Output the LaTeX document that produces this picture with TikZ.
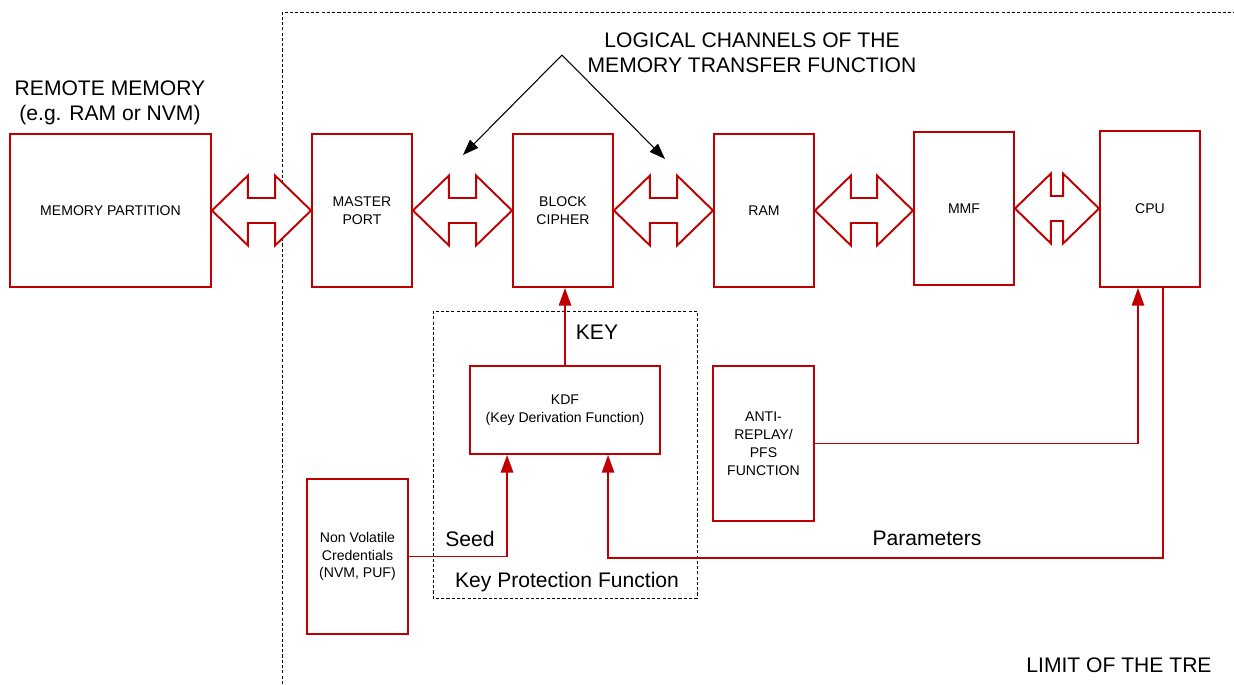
\documentclass[tikz,border=0pt]{standalone}
\usepackage{fontspec}
\setmainfont{Liberation Sans}
\usepackage{xcolor}
\usetikzlibrary{arrows.meta,calc}
\definecolor{tred}{RGB}{192,0,0}

% double arrow between two blocks
\newcommand\chan[2]{%
  \draw[chanarrow] let \p1=(#1.east), \p2=(#2.west) in
    (\x1,\y1) -- (\x1+0.72cm,\y1+0.7cm) -- (\x1+0.72cm,\y1+0.25cm)
    -- (\x2-0.72cm,\y1+0.25cm) -- (\x2-0.72cm,\y1+0.7cm) -- (\x2,\y1)
    -- (\x2-0.72cm,\y1-0.7cm) -- (\x2-0.72cm,\y1-0.25cm)
    -- (\x1+0.72cm,\y1-0.25cm) -- (\x1+0.72cm,\y1-0.7cm) -- cycle;}

\tikzset{
  blk/.style={draw=tred, line width=1.1pt, minimum width=2cm, minimum height=3.06cm,
    align=center, font=\fontsize{8}{10}\selectfont, inner sep=1pt},
  chanarrow/.style={draw=tred, line width=1.1pt, line join=miter, fill=white},
  link/.style={draw=tred, line width=0.9pt, -{Triangle[length=10pt,width=7pt]}},
  pointer/.style={black, line width=0.6pt, -{Triangle[length=9pt,width=6.5pt]}},
  limit/.style={black, line width=0.5pt, dash pattern=on 1.8pt off 1.2pt},
  big/.style={font=\fontsize{12}{14.5}\selectfont, align=center, inner sep=0pt},
}

\begin{document}
\begin{tikzpicture}[x=0.02cm, y=-0.02cm]
    \useasboundingbox (0,0) rectangle (1234,684);
    % limit of the TRE and key protection area
    \draw[limit] (282,684) -- (282,12) -- (1234,12);
    \draw[limit] (433,311) rectangle (697,598);
    % transfer chain
    \node[blk, minimum width=4.02cm] (mem) at (110.5,210.5) {MEMORY PARTITION};
    \node[blk] (master) at (362,210.5) {MASTER\\PORT};
    \node[blk] (cipher) at (563,210.5) {BLOCK\\CIPHER};
    \node[blk] (ram) at (764,210.5) {RAM};
    \node[blk] (mmf) at (964,208.5) {MMF};
    \node[blk, minimum height=3.12cm] (cpu) at (1150,209) {CPU};
    \chan{mem}{master}
    \chan{master}{cipher}
    \chan{cipher}{ram}
    \chan{ram}{mmf}
    \chan{mmf}{cpu}
    % key side
    \node[blk, minimum width=3.8cm, minimum height=1.76cm] (kdf) at (565,410) {KDF\\(Key Derivation Function)};
    \node[blk, minimum width=2.02cm, minimum height=3.1cm, font=\fontsize{8}{10.2}\selectfont] (anti) at (763.5,443.5) {ANTI-\\REPLAY/\\PFS\\FUNCTION};
    \node[blk, minimum width=2.02cm, minimum height=3.1cm] (nvc) at (357.5,556.5) {Non Volatile\\Credentials\\(NVM, PUF)};
    \coordinate (seedin) at ($(kdf.south west)+(38,0)$);
    \coordinate (parin) at ($(kdf.south west)+(139,0)$);
    \draw[link, line width=1.1pt] (kdf.north) -- (kdf.north |- cipher.south);
    \draw[link, line width=1.1pt] (nvc.east) -| (seedin);
    \draw[link] ($(cpu.south)+(13,0)$) |- ($(parin)+(0,103)$) -- (parin);
    \draw[link] (anti.east) -| ($(cpu.south)+(-12,0)$);
    % labels
    \node[big] (remote) at (110,103) {REMOTE MEMORY\\(e.g. RAM or NVM)};
    \node[big] (logical) at (752,52.5) {LOGICAL CHANNELS OF THE\\MEMORY TRANSFER FUNCTION};
    \node[big] (keylbl) at (597,332) {KEY};
    \node[big] (seedlbl) at (470,539) {Seed};
    \node[big] (kpf) at (567,582) {Key Protection Function};
    \node[big] (params) at (927,538) {Parameters};
    \node[big] (tre) at (1119,665) {LIMIT OF THE TRE};
    \coordinate (apex) at (562,55);
    \coordinate (lc1) at (463,155);
    \coordinate (lc2) at (665,159);
    \draw[pointer] (apex) -- (lc1);
    \draw[pointer] (apex) -- (lc2);
\end{tikzpicture}
\end{document}
